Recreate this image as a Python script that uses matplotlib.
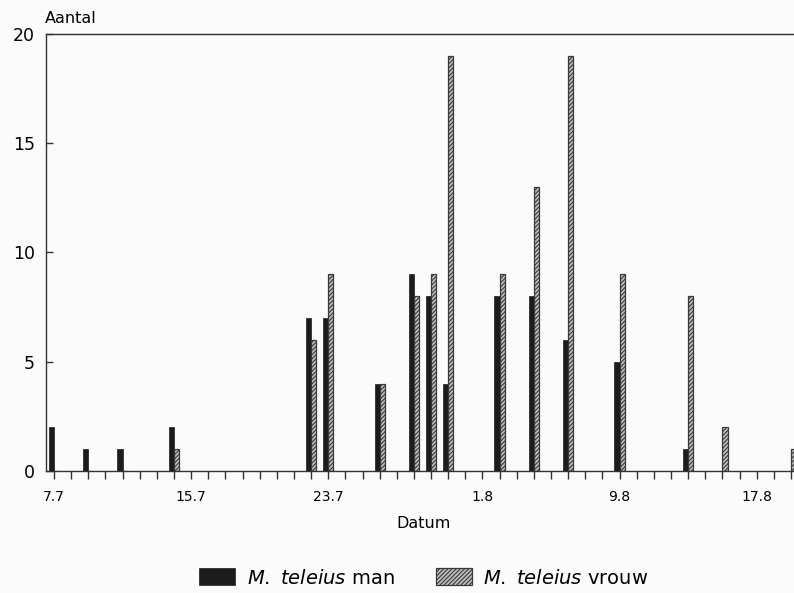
import datetime as dt
import matplotlib
matplotlib.use("Agg")
import matplotlib.pyplot as plt
import matplotlib.dates as mdates
from matplotlib.ticker import FuncFormatter

# Vangsten per datum (dag.maand)
datums = ["7.7", "9.7", "11.7", "14.7", "22.7", "23.7", "26.7", "28.7", "29.7",
          "30.7", "2.8", "4.8", "6.8", "9.8", "13.8", "15.8", "19.8"]
man = [2, 1, 1, 2, 7, 7, 4, 9, 8, 4, 8, 8, 6, 5, 1, 0, 0]
vrouw = [0, 0, 0, 1, 6, 9, 4, 8, 9, 19, 9, 13, 19, 9, 8, 2, 1]

tick_labels = ["7.7", "15.7", "23.7", "1.8", "9.8", "17.8"]
y_ticks = [0, 5, 10, 15, 20]

JAAR = 1990


def naar_datum(s):
    d, m = s.split(".")
    return dt.datetime(JAAR, int(m), int(d))


x = [naar_datum(s) for s in datums]
major = [naar_datum(s) for s in tick_labels]

plt.rcParams["font.family"] = ["DejaVu Sans"]
plt.rcParams["mathtext.fontset"] = "custom"
plt.rcParams["mathtext.it"] = "DejaVu Sans:italic"
plt.rcParams["hatch.linewidth"] = 0.8

fig = plt.figure(figsize=(7.94, 5.93), dpi=100, facecolor="#fbfbfb")
ax = fig.add_axes([0.058, 0.2057, 0.942, 0.737])
ax.set_facecolor("#fbfbfb")

breedte = 0.3
ax.bar(x, man, width=-breedte, align="edge", color="#1c1c1c",
       edgecolor="#1c1c1c", linewidth=0.5, label=r"$\it{M.\ teleius}$ man")
ax.bar(x, vrouw, width=breedte, align="edge", color="#bdbdbd",
       edgecolor="#3a3a3a", hatch="////////", linewidth=0.9,
       label=r"$\it{M.\ teleius}$ vrouw")

start = naar_datum("7.7")
ax.set_xlim(start - dt.timedelta(days=0.467), start + dt.timedelta(days=43.18))
ax.set_ylim(0, 20)

ax.set_xticks(major)
ax.xaxis.set_major_formatter(FuncFormatter(
    lambda v, p: "{}.{}".format(mdates.num2date(v).day, mdates.num2date(v).month)))
ax.xaxis.set_minor_locator(mdates.DayLocator())
ax.tick_params(axis="x", which="both", direction="out", length=6, width=1,
               color="#333333", labelsize=10, pad=8)
ax.set_yticks(y_ticks)
ax.tick_params(axis="y", direction="in", length=5, width=1, color="#333333",
               labelsize=12.5, pad=8)

for kant in ["left", "top", "bottom"]:
    ax.spines[kant].set_color("#333333")
    ax.spines[kant].set_linewidth(1.0)
ax.spines["right"].set_visible(False)

fig.text(0.057, 1 - 23 / 593, "Aantal", fontsize=11.5, va="baseline", ha="left")
fig.text(424 / 794, 1 - 524 / 593, "Datum", fontsize=11.5, va="center", ha="center")

fig.legend(loc="center", bbox_to_anchor=(424 / 794, 1 - 578 / 593), ncol=2,
           frameon=False, fontsize=14, handlelength=1.85, handleheight=0.95,
           handletextpad=0.6, columnspacing=2.1)

fig.savefig("out.png", dpi=100, facecolor=fig.get_facecolor())
